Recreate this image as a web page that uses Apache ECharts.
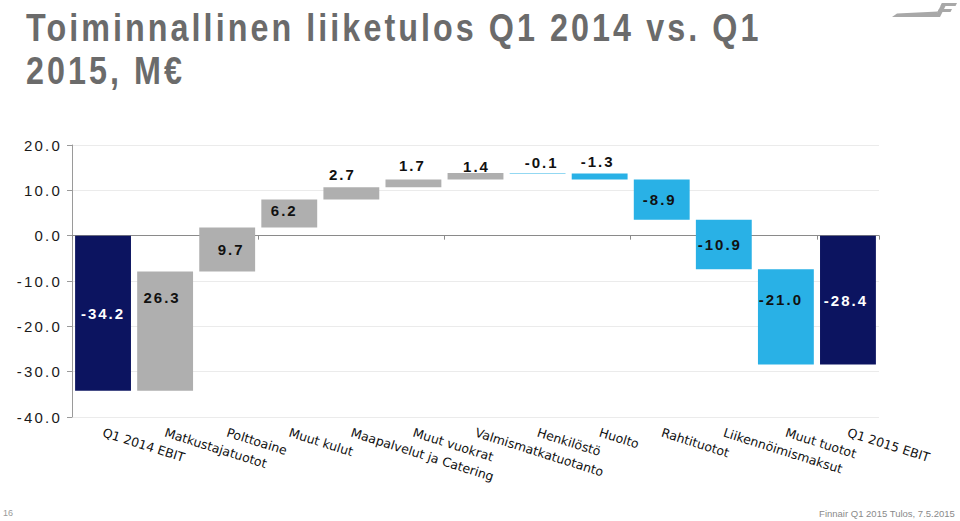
<!DOCTYPE html>
<html><head><meta charset="utf-8">
<script src="https://cdn.jsdelivr.net/npm/echarts@6/dist/echarts.min.js"></script>
<style>
html,body{margin:0;padding:0;background:#fff;overflow:hidden}
#c{width:960px;height:521px}
#c text[style*="Roboto"]{letter-spacing:3.6px}
#c text[style*="Helvetica"]{letter-spacing:2px}
#c text[style*="Arial"]{letter-spacing:2.2px}
</style>
</head><body><div id="c"></div>
<script>
// ---- data ----
const categories = ['Q1 2014 EBIT','Matkustajatuotot','Polttoaine','Muut kulut','Maapalvelut ja Catering','Muut vuokrat','Valmismatkatuotanto','Henkilöstö','Huolto','Rahtituotot','Liikennöimismaksut','Muut tuotot','Q1 2015 EBIT'];
const values = [-34.2, 26.3, 9.7, 6.2, 2.7, 1.7, 1.4, -0.1, -1.3, -8.9, -10.9, -21.0, -28.4];
const isTotal = [true,false,false,false,false,false,false,false,false,false,false,false,true];
const yMin = -40, yMax = 20, yStep = 10;
const titleLines = ['Toiminnallinen liiketulos Q1 2014 vs. Q1', '2015, M€'];

// ---- label placement (presentation) ----
const labelMode = ['mid','top','mid','mid','top','top','top','top','top','mid','top','top','mid'];
const labelDy   = [0, 26, 0, -3, -13, -14, -7, -11, -12, 0, 25, 30, 0];
const labelDx   = [0, -3, 4, -5, -9, -1, 1, 4, -2, -2, -4, -5, -2];

// build waterfall ranges
const rows = [];
let run = 0;
values.forEach((v, i) => {
  let s, e;
  if (isTotal[i]) { s = 0; e = v; run = v; }
  else { s = run; e = run + v; run = e; }
  rows.push([i, s, e, v]);
});

const NAVY = '#0c1460', GRAY = '#afafaf', BLUE = '#29b1e6';

const chart = echarts.init(document.getElementById('c'), null, {renderer: 'svg'});
chart.setOption({
  animation: false,
  backgroundColor: '#fff',
  grid: {left: 72, right: 81, top: 145, bottom: 104},
  xAxis: [{
    type: 'category', data: categories, position: 'bottom',
    axisLine: {show: false, onZero: false}, axisTick: {show: false},
    axisLabel: {interval: 0, rotate: -17.5, margin: 15, color: '#111',
      fontFamily: "'DejaVu Sans', Verdana", fontSize: 12.5}
  }, {
    type: 'category', data: categories, position: 'top',
    axisLine: {show: true, onZero: true, lineStyle: {color: '#8a8a8a', width: 1}},
    axisTick: {show: true, inside: true, length: 4, lineStyle: {color: '#8a8a8a'}},
    axisLabel: {show: false}, splitLine: {show: false}
  }],
  yAxis: {
    type: 'value', min: yMin, max: yMax, interval: yStep,
    axisLine: {show: true, lineStyle: {color: '#9a9a9a'}},
    axisTick: {show: true, length: 5, lineStyle: {color: '#9a9a9a'}},
    axisLabel: {margin: 10, color: '#1a1a1a', fontSize: 15,
      fontFamily: "'Liberation Sans', Arial", formatter: v => v.toFixed(1)},
    splitLine: {lineStyle: {color: '#ebebeb'}}
  },
  series: [{
    type: 'custom',
    xAxisIndex: 0,
    data: rows,
    encode: {x: 0, y: [1, 2]},
    renderItem: (params, api) => {
      const i = api.value(0), s = api.value(1), e = api.value(2), v = api.value(3);
      const top = api.coord([i, Math.max(s, e)]);
      const bot = api.coord([i, Math.min(s, e)]);
      const w = api.size([1, 0])[0] * 0.9;
      const color = isTotal[i] ? NAVY : (v >= 0 ? GRAY : BLUE);
      let ly;
      if (labelMode[i] === 'mid') ly = (top[1] + bot[1]) / 2 + labelDy[i];
      else ly = top[1] + labelDy[i];
      return {
        type: 'group',
        children: [{
          type: 'rect',
          shape: {x: top[0] - w / 2, y: top[1], width: w, height: Math.max(bot[1] - top[1], 0.5)},
          style: {fill: color}
        }, {
          type: 'text',
          style: {
            text: v.toFixed(1), x: top[0] + labelDx[i], y: ly,
            fill: isTotal[i] ? '#ffffff' : '#111111',
            font: "bold 15px 'Liberation Sans', Helvetica",
            textAlign: 'center', textVerticalAlign: 'middle',
            align: 'center', verticalAlign: 'middle'
          }
        }]
      };
    }
  }],
  graphic: [
    {type: 'text', x: 26, y: 28, scaleX: 0.85, scaleY: 1,
      style: {text: titleLines[0], fill: '#6b6b6b', font: "bold 38px 'Liberation Sans', Roboto", verticalAlign: 'middle', textVerticalAlign: 'middle'}},
    {type: 'text', x: 26, y: 71, scaleX: 0.85, scaleY: 1,
      style: {text: titleLines[1], fill: '#6b6b6b', font: "bold 38px 'Liberation Sans', Roboto", verticalAlign: 'middle', textVerticalAlign: 'middle'}},
    {type: 'text', left: 3, top: 508, style: {text: '16', fill: '#9a9a9a', font: "9px 'Liberation Sans'"}},
    {type: 'text', right: 5, top: 508, style: {text: 'Finnair Q1 2015 Tulos, 7.5.2015', fill: '#8a8a8a', font: "9.5px 'Liberation Sans'"}},
    {type: 'polygon', shape: {points: [[892,17],[897,13.5],[938,11.5],[936,17]]}, style: {fill: '#a8a8a8'}},
    {type: 'polygon', shape: {points: [[935,17],[940,17],[947,3],[942,3]]}, style: {fill: '#a8a8a8'}},
    {type: 'polygon', shape: {points: [[942,3],[957,3],[955.5,6],[940.5,6]]}, style: {fill: '#a8a8a8'}},
    {type: 'polygon', shape: {points: [[939,9],[952,9],[950.5,12],[937.5,12]]}, style: {fill: '#a8a8a8'}}
  ]
});
</script>
</body></html>
